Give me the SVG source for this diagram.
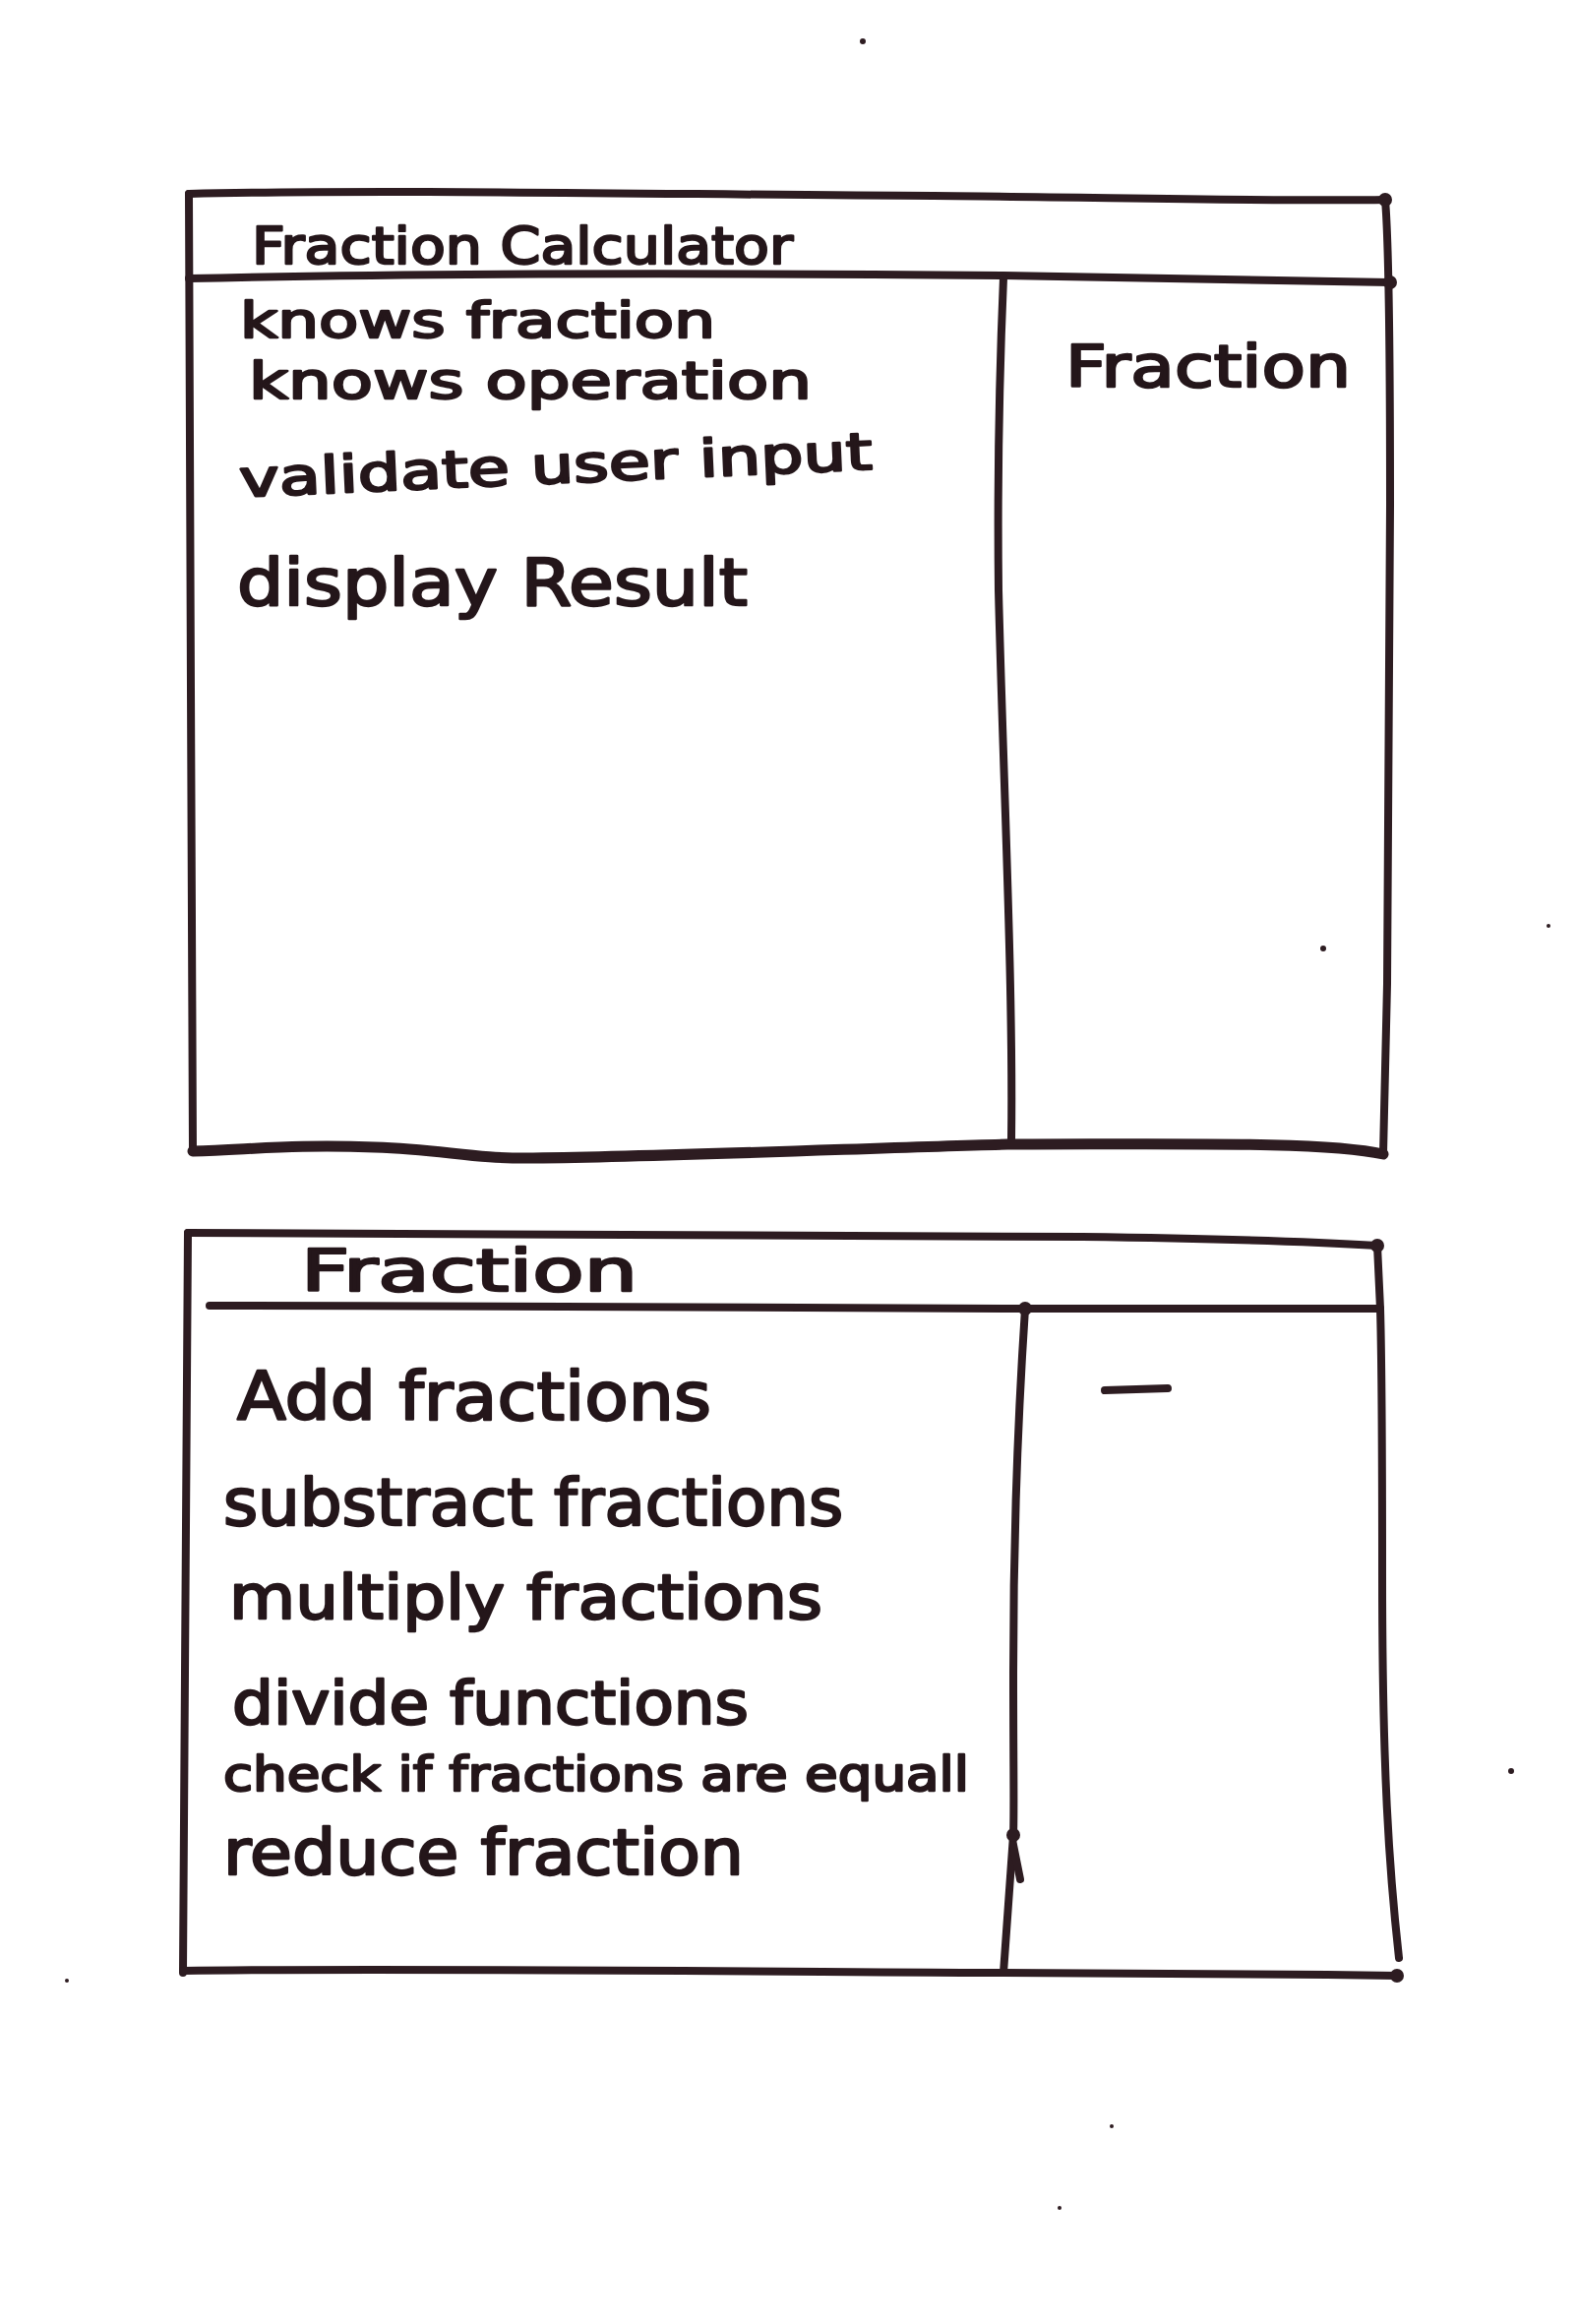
<svg xmlns="http://www.w3.org/2000/svg" width="1604" height="2362" viewBox="0 0 1604 2362">
  <style>
    .ink { fill: none; stroke: #2d1c21; stroke-width: 8; stroke-linecap: round; stroke-linejoin: round; }
    .thick { stroke-width: 11; }
    .hand { font-family: "DejaVu Sans", "Noto Sans", sans-serif; fill: #24161a; stroke: #24161a; stroke-width: 2.4; stroke-linejoin: round; }
    .dot { fill: #2d1c21; }
  </style>
  <rect width="1604" height="2362" fill="#ffffff"/>

  <!-- CRC card: Fraction Calculator -->
  <g id="card-fraction-calculator">
    <path class="ink" d="M192,197 C400,192 700,198 949,199 C1100,200 1300,205 1408,203"/>
    <path class="ink" d="M192,197 L194,700 L196,1170"/>
    <path class="ink" d="M1408,203 C1412,250 1413,400 1413,513 L1410,1000 L1406,1173"/>
    <path class="ink" d="M192,283 C500,276 800,278 1020,280 C1200,283 1350,287 1413,287"/>
    <path class="ink" d="M1020,282 C1015,400 1014,513 1015,600 C1020,800 1030,1000 1028,1158"/>
    <path class="ink thick" d="M196,1170 C260,1168 300,1163 381,1166 C450,1168 480,1178 542,1177 C700,1175 900,1166 1024,1163 C1200,1163 1350,1160 1406,1173"/>
    <circle class="dot" cx="1408" cy="203" r="7"/>
    <circle class="dot" cx="1413" cy="287" r="7"/>
    <text class="hand" x="256" y="268" font-size="52" textLength="550" lengthAdjust="spacingAndGlyphs">Fraction Calculator</text>
    <text class="hand" x="244" y="343" font-size="50" textLength="483" lengthAdjust="spacingAndGlyphs">knows fraction</text>
    <text class="hand" x="253" y="405" font-size="52" textLength="572" lengthAdjust="spacingAndGlyphs">knows operation</text>
    <text class="hand" x="244" y="505" font-size="52" textLength="644" lengthAdjust="spacingAndGlyphs" transform="rotate(-2.5 244 505)">validate user input</text>
    <text class="hand" x="241" y="615" font-size="66" textLength="519" lengthAdjust="spacingAndGlyphs">display Result</text>
    <text class="hand" x="1083" y="393" font-size="58" textLength="290" lengthAdjust="spacingAndGlyphs">Fraction</text>
  </g>

  <!-- CRC card: Fraction -->
  <g id="card-fraction">
    <path class="ink" d="M191,1253 C500,1252 800,1256 1100,1257 C1250,1259 1350,1263 1400,1266"/>
    <path class="ink" d="M191,1253 L188,1700 L186,2005"/>
    <path class="ink" d="M213,1327 C500,1327 800,1330 1042,1330 C1200,1330 1350,1329 1403,1330"/>
    <path class="ink" d="M1400,1266 L1403,1330 C1405,1400 1405,1500 1405,1600 C1405,1800 1412,1900 1422,1990"/>
    <path class="ink" d="M1042,1330 C1034,1450 1030,1587 1030,1700 C1030,1800 1031,1840 1030,1865 L1020,2005"/>
    <path class="ink" d="M1030,1875 L1037,1910" stroke-width="5"/>
    <path class="ink" d="M186,2003 C400,2000 800,2004 1020,2005 C1200,2006 1300,2006 1420,2008"/>
    <circle class="dot" cx="1400" cy="1266" r="7"/>
    <circle class="dot" cx="1042" cy="1330" r="7"/>
    <circle class="dot" cx="1030" cy="1865" r="7"/>
    <circle class="dot" cx="1420" cy="2008" r="7"/>
    <text class="hand" x="306" y="1312" font-size="58" textLength="342" lengthAdjust="spacingAndGlyphs">Fraction</text>
    <text class="hand" x="241" y="1443" font-size="68" textLength="482" lengthAdjust="spacingAndGlyphs">Add fractions</text>
    <text class="hand" x="227" y="1550" font-size="66" textLength="630" lengthAdjust="spacingAndGlyphs">substract fractions</text>
    <text class="hand" x="233" y="1645" font-size="62" textLength="603" lengthAdjust="spacingAndGlyphs">multiply fractions</text>
    <text class="hand" x="236" y="1752" font-size="60" textLength="525" lengthAdjust="spacingAndGlyphs">divide functions</text>
    <text class="hand" x="227" y="1820" font-size="48" textLength="758" lengthAdjust="spacingAndGlyphs">check if fractions are equall</text>
    <text class="hand" x="227" y="1905" font-size="64" textLength="529" lengthAdjust="spacingAndGlyphs">reduce fraction</text>
    <path class="ink" d="M1123,1413 L1187,1411" stroke-width="9"/>
  </g>

  <!-- no connectors between the cards -->
  <g id="connectors"/>

  <!-- stray marker specks on the sheet -->
  <g id="specks">
    <circle class="dot" cx="877" cy="42" r="3"/>
    <circle class="dot" cx="1345" cy="964" r="3"/>
    <circle class="dot" cx="1574" cy="941" r="2"/>
    <circle class="dot" cx="1536" cy="1800" r="3"/>
    <circle class="dot" cx="68" cy="2013" r="2"/>
    <circle class="dot" cx="1130" cy="2161" r="2"/>
    <circle class="dot" cx="1077" cy="2244" r="2"/>
  </g>
</svg>
